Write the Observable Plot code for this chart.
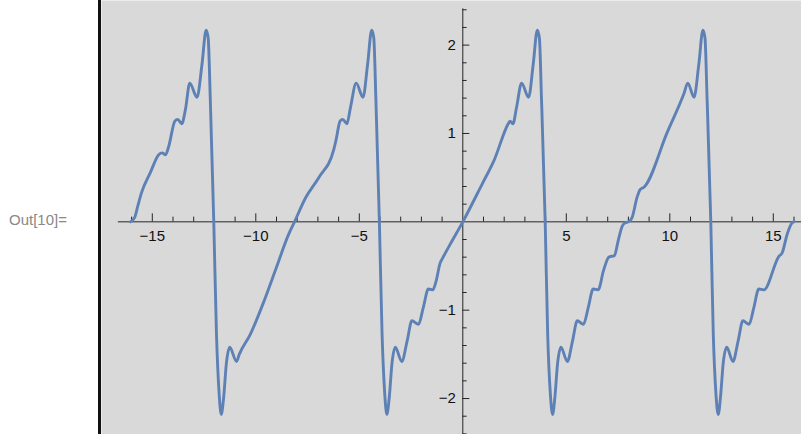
<!DOCTYPE html>
<html>
<head>
<meta charset="utf-8">
<script src="https://cdn.jsdelivr.net/npm/d3@7"></script>
<script src="https://cdn.jsdelivr.net/npm/@observablehq/plot@0.6"></script>
<style>
  html, body { margin: 0; padding: 0; background: #ffffff; }
  #wrap { position: relative; width: 801px; height: 434px; overflow: hidden; background: #ffffff; }
  #out { position: absolute; left: 9px; top: 211px; font: 15px "Liberation Sans", Arial, sans-serif; color: #888888; }
  #bar { position: absolute; left: 98px; top: 0; width: 3px; height: 434px; background: #111; }
  #chart { position: absolute; left: 0; top: 0; }
</style>
</head>
<body>
<div id="wrap">
  <div id="out">Out[10]=</div>
  <div id="chart"></div>
  <div id="bar"></div>
</div>
<script>
// Curve samples
const xs = [
  -16.05, -15.85, -15.7, -15.52, -15.09, -14.69, -14.52, -14.36, -14.2, -13.91, -13.77, -13.58, -13.4, -13.19,
  -12.84, -12.6, -12.4, -12.3, -12.2, -12.03, -11.9, -11.77, -11.67, -11.55, -11.42, -11.26, -10.93, -10.8,
  -10.26, -9.59, -9.01, -8.41, -8.13, -7.6, -6.96, -6.23, -6.12, -5.93, -5.8, -5.6, -5.43, -5.15,
  -4.82, -4.6, -4.4, -4.3, -4.2, -4.03, -3.9, -3.77, -3.67, -3.55, -3.42, -3.26, -2.95, -2.69,
  -2.46, -2.14, -1.91, -1.66, -1.45, -1.3, -1.1, -0.95, -0.6, 0,
  0.94, 1.5, 2.22, 2.28, 2.42, 2.6, 2.84, 3.18, 3.4, 3.6, 3.7, 3.8, 3.98,
  4.1, 4.23, 4.34, 4.45, 4.58, 4.74, 5.05, 5.3, 5.53, 5.83, 6.06, 6.3, 6.54, 6.8, 7.05, 7.33,
  7.5, 7.7, 7.85, 8.02, 8.18, 8.42, 8.58, 8.74, 9.87, 10.68, 10.87, 11.17, 11.4, 11.6, 11.7, 11.8, 11.98,
  12.1, 12.23, 12.34, 12.45, 12.58, 12.75, 13.05, 13.3, 13.53, 13.83, 14.06, 14.3, 14.54,
  15.27, 15.43, 15.67, 15.91, 16.0
];
const ys = [
  0, 0.05, 0.18, 0.33, 0.56, 0.76, 0.78, 0.76, 0.86, 1.14, 1.16, 1.11, 1.27, 1.57,
  1.41, 1.78, 2.17, 2.08, 1.4, 0, -1.27, -1.95, -2.18, -1.98, -1.6, -1.42, -1.58, -1.5,
  -1.27, -0.89, -0.52, -0.14, 0, 0.27, 0.5, 0.82, 0.93, 1.14, 1.16, 1.11, 1.29, 1.57,
  1.41, 1.78, 2.17, 2.08, 1.4, 0, -1.27, -1.95, -2.18, -1.98, -1.6, -1.42, -1.58, -1.35,
  -1.12, -1.16, -0.97, -0.76, -0.77, -0.68, -0.47, -0.4, -0.25, 0,
  0.43, 0.69, 1.12, 1.14, 1.11, 1.3, 1.57, 1.41, 1.78, 2.17, 2.08, 1.4, 0,
  -1.27, -1.95, -2.18, -1.98, -1.6, -1.42, -1.58, -1.35, -1.12, -1.16, -0.97, -0.76, -0.77, -0.55, -0.4, -0.38,
  -0.22, -0.05, -0.01, 0, 0.05, 0.28, 0.37, 0.39, 1.01, 1.45, 1.57, 1.41, 1.78, 2.17, 2.08, 1.4, 0,
  -1.27, -1.95, -2.18, -1.98, -1.6, -1.42, -1.58, -1.35, -1.12, -1.16, -0.97, -0.76, -0.77,
  -0.39, -0.35, -0.14, -0.01, 0
];

const xMajorTicks = [-15, -10, -5, 5, 10, 15];
const xMinorTicks = [-16, -14, -13, -12, -11, -9, -8, -7, -6, -4, -3, -2, -1, 1, 2, 3, 4, 6, 7, 8, 9, 11, 12, 13, 14, 16];
const yMajorTicks = [-2, -1, 1, 2];
const yMinorTicks = [-2.4, -2.2, -1.8, -1.6, -1.4, -1.2, -0.8, -0.6, -0.4, -0.2, 0.2, 0.4, 0.6, 0.8, 1.2, 1.4, 1.6, 1.8, 2.2, 2.4];
const xAxisExtent = [-16.64, 17];
const yAxisExtent = [-2.5, 2.41];

const W = 801, H = 434, ML = 101;
const xDomain = [-17.454, 16.362];
const yDomain = [-2.407, 2.505];
const pxPerY = H / (yDomain[1] - yDomain[0]);
const pxPerX = (W - ML) / (xDomain[1] - xDomain[0]);
const fmt = d => (d < 0 ? "\u2212" + Math.abs(d) : String(d));

const pts = xs.map((x, i) => ({x, y: ys[i]}));
const axisColor = "#262626";

const chart = Plot.plot({
  width: W,
  height: H,
  marginLeft: ML,
  marginRight: 0,
  marginTop: 0,
  marginBottom: 0,
  x: {domain: xDomain, axis: null},
  y: {domain: yDomain, axis: null},
  style: {fontFamily: "'Liberation Sans', Arial, sans-serif", fontSize: "15px", background: "transparent"},
  marks: [
    Plot.frame({fill: "#d9d9d9", stroke: null}),
    // axes through the origin
    Plot.ruleY([0], {x1: xAxisExtent[0], x2: xAxisExtent[1], stroke: axisColor, strokeWidth: 1}),
    Plot.ruleX([0], {y1: yAxisExtent[0], y2: yAxisExtent[1], stroke: axisColor, strokeWidth: 1}),
    Plot.ruleX(xMajorTicks, {x: d => d, y1: 0, y2: 8 / pxPerY, stroke: axisColor}),
    Plot.ruleX(xMinorTicks, {x: d => d, y1: 0, y2: 4.7 / pxPerY, stroke: axisColor}),
    Plot.ruleY(yMajorTicks, {y: d => d, x1: 0, x2: 7 / pxPerX, stroke: axisColor}),
    Plot.ruleY(yMinorTicks, {y: d => d, x1: 0, x2: 4.3 / pxPerX, stroke: axisColor}),
    Plot.text(xMajorTicks, {x: d => d, y: 0, dy: 14, text: fmt, fill: "#111", textAnchor: "middle", fontSize: 15}),
    Plot.text(yMajorTicks, {x: 0, y: d => d, dx: -7, text: fmt, fill: "#111", textAnchor: "end", fontSize: 15}),
    Plot.line(pts, {x: "x", y: "y", curve: "monotone-x", stroke: "#5e81b5", strokeWidth: 2.9, strokeLinejoin: "round"})
  ]
});
document.getElementById("chart").appendChild(chart);
</script>
</body>
</html>
